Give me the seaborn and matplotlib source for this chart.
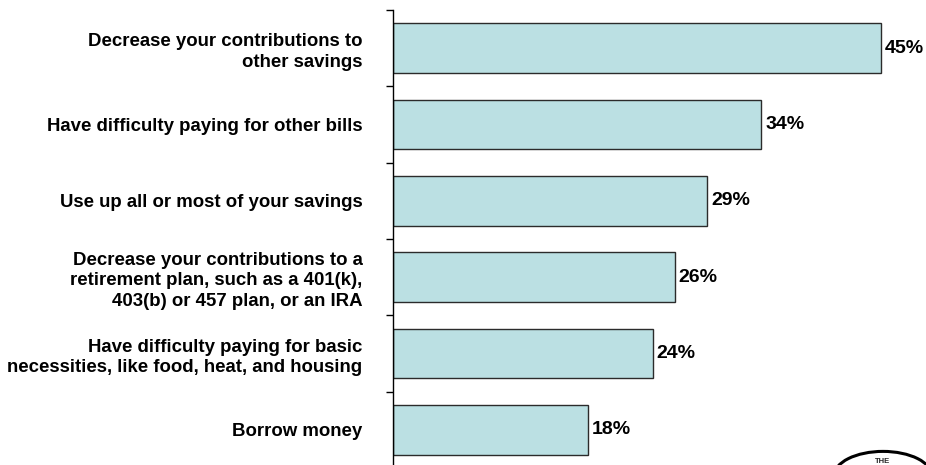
import matplotlib
matplotlib.use("Agg")
import matplotlib.pyplot as plt
from matplotlib.patches import Circle
import seaborn as sns
import pandas as pd

categories = [
    "Decrease your contributions to\nother savings",
    "Have difficulty paying for other bills",
    "Use up all or most of your savings",
    "Decrease your contributions to a\nretirement plan, such as a 401(k),\n403(b) or 457 plan, or an IRA",
    "Have difficulty paying for basic\nnecessities, like food, heat, and housing",
    "Borrow money",
]
values = [45, 34, 29, 26, 24, 18]
value_labels = ["45%", "34%", "29%", "26%", "24%", "18%"]

df = pd.DataFrame({"category": categories, "value": values})

sns.set_style("white")
plt.rcParams["font.family"] = ["Liberation Sans", "DejaVu Sans"]

fig = plt.figure(figsize=(9.26, 4.65), dpi=100)
W, H = 926, 465
left, right = 393, 924
top, bottom = 10, 468
ax = fig.add_axes([left / W, 1 - bottom / H, (right - left) / W, (bottom - top) / H])

sns.barplot(data=df, x="value", y="category", orient="h", ax=ax,
            color="#bbe0e3", edgecolor="#2b2b2b", linewidth=1.0,
            width=0.655, saturation=1)

ax.set_xlim(0, 49)
ax.set_ylim(len(categories) - 0.5, -0.5)
ax.set_xlabel("")
ax.set_ylabel("")
ax.set_xticks([])

for s in ["top", "right", "bottom"]:
    ax.spines[s].set_visible(False)
ax.spines["left"].set_color("black")
ax.spines["left"].set_linewidth(1.0)

# category labels at bar centers, tick marks at category boundaries
ax.set_yticks(range(len(categories)))
ax.set_yticklabels(categories, fontsize=13.4, fontweight="bold",
                   linespacing=1.28, ha="right", color="black")
ax.tick_params(axis="y", which="major", left=False, length=0, pad=22)
ax.set_yticks([i - 0.5 for i in range(len(categories) + 1)], minor=True)
ax.tick_params(axis="y", which="minor", left=True, length=5, width=1,
               color="black", direction="out")

for i, (v, lab) in enumerate(zip(values, value_labels)):
    ax.text(v + 0.35, i, lab, va="center", ha="left",
            fontsize=14, fontweight="bold", color="black")

# round emblem in the lower right corner
fig.patches.append(Circle((883 / W, 1 - 476 / H), 49 / W, transform=fig.transFigure,
                          fill=False, edgecolor="black", linewidth=2.2))
fig.text(883 / W, 1 - 458 / H, "THE", ha="center", va="top",
         fontsize=5.5, fontweight="bold")

fig.savefig("out.png", dpi=100)
